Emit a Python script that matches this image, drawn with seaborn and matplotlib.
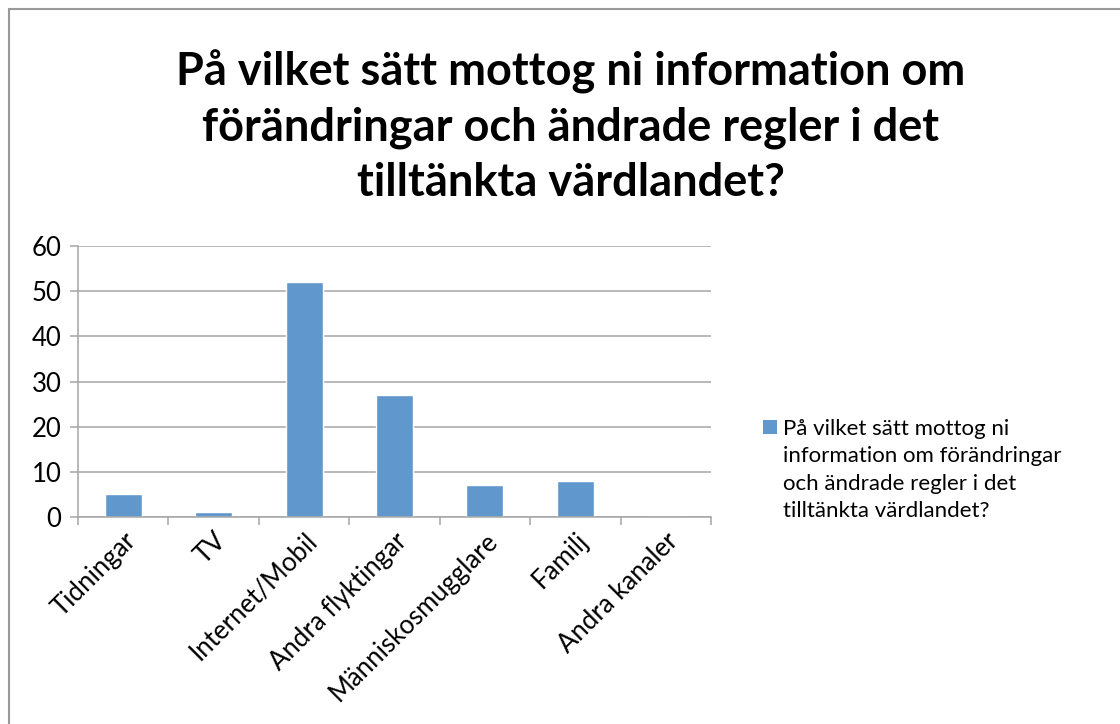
import matplotlib
matplotlib.use("Agg")
import matplotlib.pyplot as plt
import seaborn as sns
import numpy as np
from matplotlib.patches import Patch
from matplotlib.lines import Line2D

categories = ["Tidningar", "TV", "Internet/Mobil", "Andra flyktingar",
              "Människosmugglare", "Familj", "Andra kanaler"]
values = [5, 1, 52, 27, 7, 8, 0]
yticks = [0, 10, 20, 30, 40, 50, 60]
title = "På vilket sätt mottog ni information om\nförändringar och ändrade regler i det\ntilltänkta värdlandet?"
legend_lines = ["På vilket sätt mottog ni", "information om förändringar",
                "och ändrade regler i det", "tilltänkta värdlandet?"]

bar_color = "#6097CC"
grid_color = "#A6A6A6"
legend_size = 16
line_step_px = 27.3

sns.set_style("white")
plt.rcParams["font.family"] = ["Lato", "DejaVu Sans"]

fig = plt.figure(figsize=(11.2, 7.24), dpi=100)
W, H = 1120, 724
ax = fig.add_axes([78 / W, 1 - 517 / H, (711 - 78) / W, (517 - 246) / H])

sns.barplot(x=categories, y=values, color=bar_color, width=0.41, ax=ax, saturation=1)

ax.set_ylim(0, 60)
ax.set_xlim(-0.5, len(categories) - 0.5)
ax.set_yticks(yticks)
ax.yaxis.grid(True, color=grid_color, linewidth=1.1)
ax.set_axisbelow(True)
ax.set_xlabel("")
ax.set_ylabel("")

for s in ["top", "right"]:
    ax.spines[s].set_visible(False)
for s in ["left", "bottom"]:
    ax.spines[s].set_color(grid_color)
    ax.spines[s].set_linewidth(1.1)

ax.tick_params(axis="y", left=True, length=6, color=grid_color, width=1.1,
               labelsize=18.5, labelcolor="black", pad=6)
ax.set_xticks(np.arange(len(categories)))
ax.set_xticklabels(categories, rotation=45, ha="right", rotation_mode="anchor",
                   fontsize=18.5, color="black")
ax.tick_params(axis="x", which="major", length=0, pad=8)
ax.set_xticks(np.arange(-0.5, len(categories)), minor=True)
ax.tick_params(axis="x", which="minor", bottom=True, length=6, color=grid_color, width=1.1)

fig.suptitle(title, x=571 / W, y=1 - 50 / H, fontsize=32.5, fontweight="bold",
             linespacing=1.37, va="top", color="black")

# legend: square + first line, the rest of the wrapped label follows below
handle = Patch(facecolor=bar_color, edgecolor="none")
leg = fig.legend([handle], [legend_lines[0]], loc="upper left",
                 bbox_to_anchor=(763 / W, 1 - 419 / H), frameon=False,
                 fontsize=legend_size, handlelength=0.62, handleheight=0.62,
                 handletextpad=0.3, borderpad=0, borderaxespad=0)
leg.get_texts()[0].set_color("black")

fig.canvas.draw()
renderer = fig.canvas.get_renderer()
first = leg.get_texts()[0]
prop = first.get_fontproperties()
bb = first.get_window_extent(renderer)
_, _, d0 = renderer.get_text_width_height_descent(legend_lines[0], prop, ismath=False)
_, lp_h, lp_d = renderer.get_text_width_height_descent("lp", prop, ismath=False)
_, h1, d1 = renderer.get_text_width_height_descent(legend_lines[1], prop, ismath=False)
baseline = bb.y0 + d0
top_y = baseline - line_step_px + (max(h1, lp_h) - max(d1, lp_d))
fig.text(bb.x0 / W, top_y / H, "\n".join(legend_lines[1:]),
         fontsize=legend_size, color="black", va="top", ha="left",
         linespacing=(line_step_px - lp_d) / (lp_h - lp_d))

# chart border
fig.add_artist(Line2D([9 / W, 1], [1 - 9 / H] * 2, transform=fig.transFigure,
                      color="#999999", linewidth=1.5))
fig.add_artist(Line2D([9 / W] * 2, [0, 1 - 9 / H], transform=fig.transFigure,
                      color="#999999", linewidth=1.5))

fig.savefig("out.png", dpi=100)
